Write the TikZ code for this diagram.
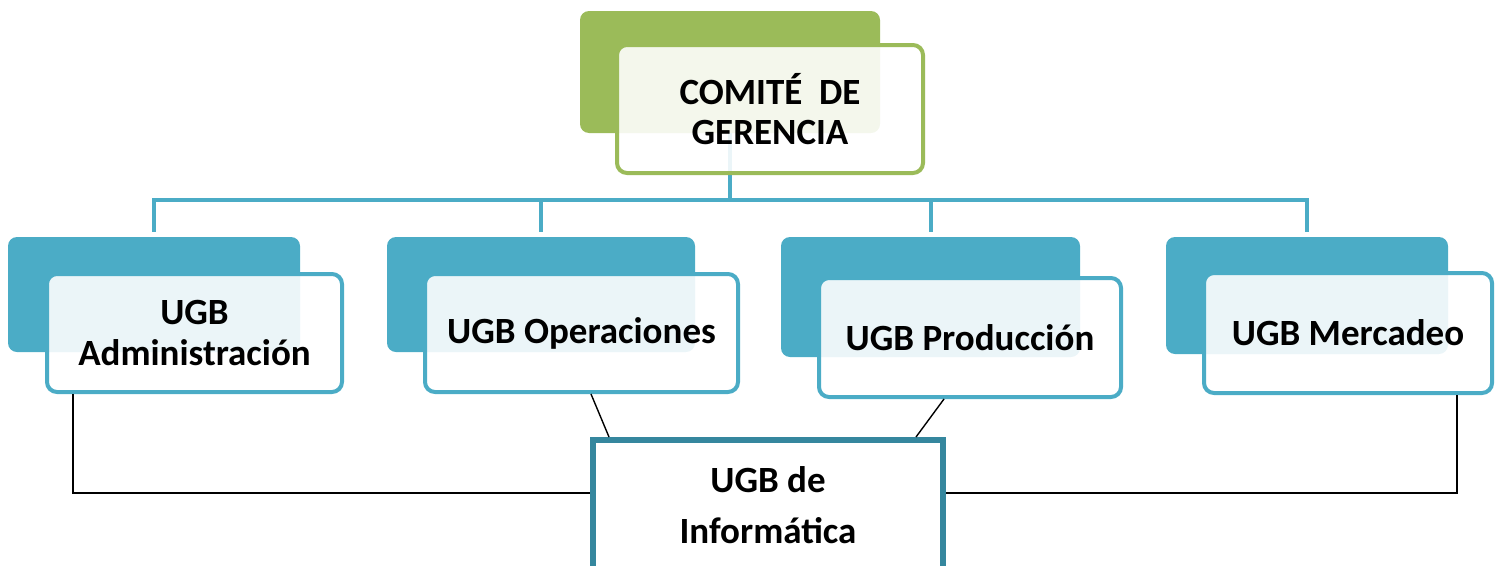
\documentclass[tikz,border=0pt]{standalone}
\usepackage{fontspec}
\setmainfont{Carlito}
\usetikzlibrary{calc}
\definecolor{grn}{HTML}{9BBB59}
\definecolor{tea}{HTML}{4BACC6}
\definecolor{dtea}{HTML}{35879E}
\begin{document}
\begin{tikzpicture}[x=1pt,y=-1pt,
  backG/.style={draw=none,fill=grn,rounded corners=9pt,inner sep=0pt},
  backT/.style={draw=none,fill=tea,rounded corners=9pt,inner sep=0pt},
  frontG/.style={draw=grn,line width=4pt,fill=white,fill opacity=0.89,text opacity=1,rounded corners=10pt,align=center,font=\fontsize{37}{40}\selectfont\bfseries,inner sep=0pt},
  frontT/.style={draw=tea,line width=4pt,fill=white,fill opacity=0.89,text opacity=1,rounded corners=10pt,align=center,font=\fontsize{37}{41}\selectfont\bfseries,inner sep=0pt},
  infobox/.style={draw=dtea,line width=6pt,fill=white,align=center,font=\fontsize{37}{51}\selectfont\bfseries,inner sep=0pt},
  bus/.style={draw=tea,line width=4pt},
  thin/.style={draw=black,line width=1.4pt}]
\useasboundingbox (0,0) rectangle (1501,565);
\clip (0,0) rectangle (1501,565);
% back boxes
\node[backG,minimum width=300pt,minimum height=122pt] (cb) at (730,72) {};
\node[backT,minimum width=292pt,minimum height=115pt] (b1) at (154,294.5) {};
\node[backT,minimum width=308pt,minimum height=115pt] (b2) at (541,294.5) {};
\node[backT,minimum width=299pt,minimum height=120pt] (b3) at (930.5,297) {};
\node[backT,minimum width=282pt,minimum height=117pt] (b4) at (1307,295.5) {};
% tree connectors
\coordinate (bj) at (730,200);
\draw[bus] (cb.south) -- (bj);
\draw[bus,shorten <=5pt] (b1.north) |- (bj) -| ([yshift=5pt]b4.north);
\draw[bus,shorten <=5pt] (b2.north) -- (b2.north |- bj);
\draw[bus,shorten <=5pt] (b3.north) -- (b3.north |- bj);
% front boxes
\node[frontG,minimum width=306pt,minimum height=128pt] (cf) at (770,109) {COMITÉ\ \ DE\\GERENCIA};
\node[frontT,minimum width=295pt,minimum height=118pt] (f1) at (194.5,333) {UGB\\Administración};
\node[frontT,minimum width=313pt,minimum height=118pt] (f2) at (581.5,333) {UGB Operaciones};
\node[frontT,minimum width=302pt,minimum height=119pt] (f3) at (970,337.5) {UGB Producción};
\node[frontT,minimum width=288pt,minimum height=120pt] (f4) at (1348,333) {UGB Mercadeo};
% informatica
\node[infobox,minimum width=350pt,minimum height=130pt] (inf) at (768,505) {UGB de\\Informática};
% thin connectors
\draw[thin] ([xshift=28pt]f1.south west) |- ([yshift=12pt]inf.west);
\draw[thin] ([xshift=-37pt]f4.south east) |- ([yshift=12pt]inf.east);
\draw[thin] ([xshift=168pt]f2.south west) -- ([xshift=19pt]inf.north west);
\draw[thin] ([xshift=-179pt]f3.south east) -- ([xshift=-30pt]inf.north east);
\end{tikzpicture}
\end{document}
